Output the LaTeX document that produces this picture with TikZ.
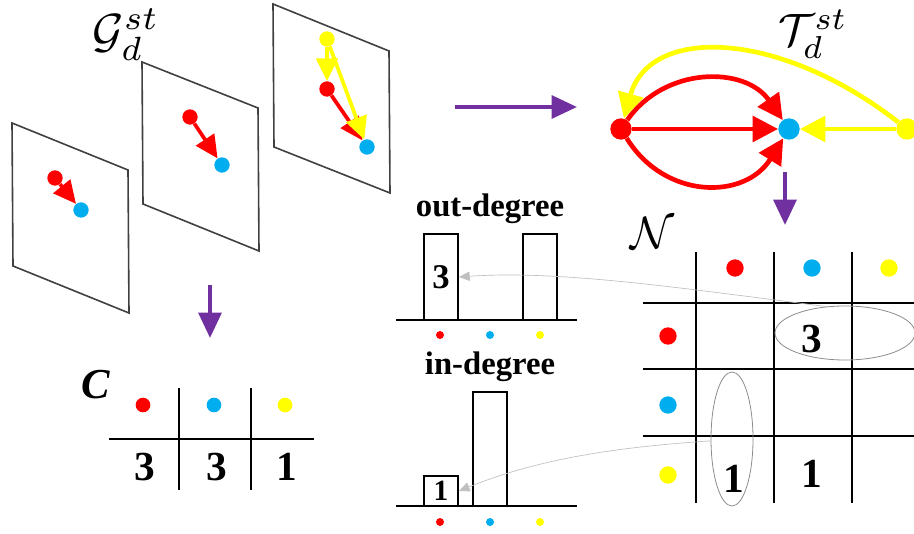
\documentclass[tikz,border=0pt]{standalone}
\usepackage{fontspec}
\setmainfont{Liberation Serif}
\usepackage{graphicx}
\usetikzlibrary{arrows.meta,shapes.geometric}
\definecolor{cred}{RGB}{255,0,0}
\definecolor{cblue}{RGB}{0,174,239}
\definecolor{cyel}{RGB}{255,255,0}
\definecolor{cpurp}{RGB}{112,48,160}
\begin{document}
\begin{tikzpicture}[x=0.75pt,y=-0.75pt,
  pdot/.style={circle,inner sep=0pt,minimum size=11.5pt,fill=#1},
  gdot/.style={circle,inner sep=0pt,minimum size=16pt,fill=#1},
  mdot/.style={circle,inner sep=0pt,minimum size=13pt,fill=#1},
  cdot/.style={circle,inner sep=0pt,minimum size=11pt,fill=#1},
  hdot/.style={circle,inner sep=0pt,minimum size=6pt,fill=#1},
  parr/.style={draw=#1,line width=2.8pt,-{Triangle[length=17pt,width=16pt,fill=#1]}},
  garr/.style={draw=#1,line width=3.5pt,-{Triangle[length=19pt,width=19pt,fill=#1]}},
  purp/.style={draw=cpurp,line width=3pt,-{Triangle[length=19pt,width=17pt,fill=cpurp]}},
  pnl/.style={draw=black!75,line width=1.2pt},
  gridline/.style={draw=black,line width=1.4pt},
  bar/.style={draw=black,line width=1.5pt,inner sep=0pt,minimum width=25.5pt},
  numtxt/.style={font=\bfseries\fontsize{31}{31}\selectfont,inner sep=0pt},
  bartxt/.style={font=\bfseries\fontsize{#1}{#1}\selectfont},
  ttl/.style={font=\bfseries\fontsize{24.5}{24.5}\selectfont,inner sep=0pt},
  link/.style={draw=black!25,line width=0.5pt,-{Triangle[length=8pt,width=7pt,fill=black!25]}},
  ring/.style={ellipse,draw=black!45,line width=0.6pt,inner sep=0pt}
]
\useasboundingbox (0,0) rectangle (914,534);

% ---------- panels ----------
\draw[pnl] (12,123) -- (128,170) -- (129,313) -- (13,266) -- cycle;
\draw[pnl] (142,62) -- (258,108) -- (259,251) -- (143,204) -- cycle;
\draw[pnl] (273,4) -- (389,51) -- (390,193) -- (274,147) -- cycle;

\node[pdot=cred] (p1r) at (55,178) {};
\node[pdot=cblue] (p1b) at (81,210) {};
\draw[parr=cred] (p1r) -- (p1b);

\node[pdot=cred] (p2r) at (190,117) {};
\node[pdot=cblue] (p2b) at (222,165) {};
\draw[parr=cred] (p2r) -- (p2b);

\node[pdot=cyel] (p3y) at (327,39) {};
\node[pdot=cred] (p3r) at (327,89) {};
\node[pdot=cblue] (p3b) at (367,147) {};
\draw[parr=cred] (p3r) -- (p3b);
\draw[parr=cyel] (p3y) -- (p3r);
\draw[parr=cyel] (p3y) -- (p3b);

\node[inner sep=0pt] (glab) at (126,35) {\scalebox{3.6}{$\mathcal{G}_d^{st}$}};

% ---------- purple arrows ----------
\coordinate (a1s) at (455,107);
\coordinate (a1e) at (577,107);
\draw[purp] (a1s) -- (a1e);
\coordinate (a2s) at (210,285);
\coordinate (a2e) at (210,338);
\draw[purp] (a2s) -- (a2e);
\coordinate (a3s) at (785,172);
\coordinate (a3e) at (785,225);
\draw[purp] (a3s) -- (a3e);

% ---------- aggregated graph ----------
\node[inner sep=0pt] (tlab) at (813,34) {\scalebox{3.4}{$\mathcal{T}_d^{st}$}};
\node[gdot=cred] (gr) at (621,129) {};
\node[gdot=cblue] (gb) at (789,129) {};
\node[gdot=cyel] (gy) at (907,129) {};
\draw[garr=cred] (gr) .. controls (665,66) and (745,66) .. (gb);
\draw[garr=cred] (gr) -- (gb);
\draw[garr=cred] (gr) .. controls (665,200) and (745,200) .. (gb);
\draw[garr=cyel] (gy) -- (gb);
\draw[garr=cyel] (gy) .. controls (780,30) and (650,25) .. (gr);

% ---------- count table C ----------
\node[font=\bfseries\itshape\fontsize{32}{32}\selectfont,inner sep=0pt,anchor=base] (clab) at (96,399) {C};
\node[cdot=cred] (c1) at (143,405) {};
\node[cdot=cblue] (c2) at (214,405) {};
\node[cdot=cyel] (c3) at (285,405) {};
\draw[gridline,line width=1.1pt] (109,439) -- (314,439);
\draw[gridline,line width=1.1pt] (179,388) -- (179,490);
\draw[gridline,line width=1.1pt] (251,388) -- (251,490);
\node[numtxt,anchor=base] (cn1) at (145,480) {3};
\node[numtxt,anchor=base] (cn2) at (217,480) {3};
\node[numtxt,anchor=base] (cn3) at (287,480) {1};

% ---------- matrix N ----------
\node[inner sep=0pt] (nlab) at (652,233) {\scalebox{3.4}{$\mathcal{N}$}};
\draw[gridline] (696,252) -- (696,503);
\draw[gridline] (774,252) -- (774,503);
\draw[gridline] (852,252) -- (852,503);
\draw[gridline] (643,303) -- (914,303);
\draw[gridline] (643,369) -- (914,369);
\draw[gridline] (643,436) -- (914,436);
\node[mdot=cred] (mc1) at (735,268) {};
\node[mdot=cblue] (mc2) at (812,268) {};
\node[mdot=cyel] (mc3) at (889,268) {};
\node[mdot=cred] (mr1) at (668,336) {};
\node[mdot=cblue] (mr2) at (668,405) {};
\node[mdot=cyel] (mr3) at (668,475) {};
\node[numtxt,anchor=base] (m13) at (812,353) {3};
\node[numtxt,anchor=base] (m31) at (734,492) {1};
\node[numtxt,anchor=base] (m32) at (812,488) {1};
\node[ring,minimum width=105pt,minimum height=40.5pt] (e3) at (845,333) {};
\node[ring,minimum width=31.5pt,minimum height=100.5pt] (e1) at (732,439) {};

% ---------- histograms ----------
\node[ttl,anchor=base] (otl) at (490,217) {out-degree};
\draw[line width=1.5pt] (396,320) -- (577,320);
\node[bar,minimum height=64.5pt,bartxt=26] (ob1) at (441,277) {3};
\node[bar,minimum height=64.5pt] (ob3) at (540,277) {};
\node[hdot=cred] (oh1) at (440,335) {};
\node[hdot=cblue] (oh2) at (490,335) {};
\node[hdot=cyel] (oh3) at (540,335) {};

\node[ttl,anchor=base] (itl) at (490,375) {in-degree};
\draw[line width=1.5pt] (396,506) -- (577,506);
\node[bar,minimum height=22.5pt,bartxt=22] (ib1) at (441,491) {1};
\node[bar,minimum height=85.5pt] (ib2) at (490,449) {};
\node[hdot=cred] (ih1) at (440,522) {};
\node[hdot=cblue] (ih2) at (490,522) {};
\node[hdot=cyel] (ih3) at (540,522) {};

% ---------- links ----------
\draw[link] (e3.125) .. controls (680,288) and (560,270) .. (ob1.east);
\draw[link] (e1.185) .. controls (620,447) and (540,458) .. (ib1.east);
\end{tikzpicture}
\end{document}
